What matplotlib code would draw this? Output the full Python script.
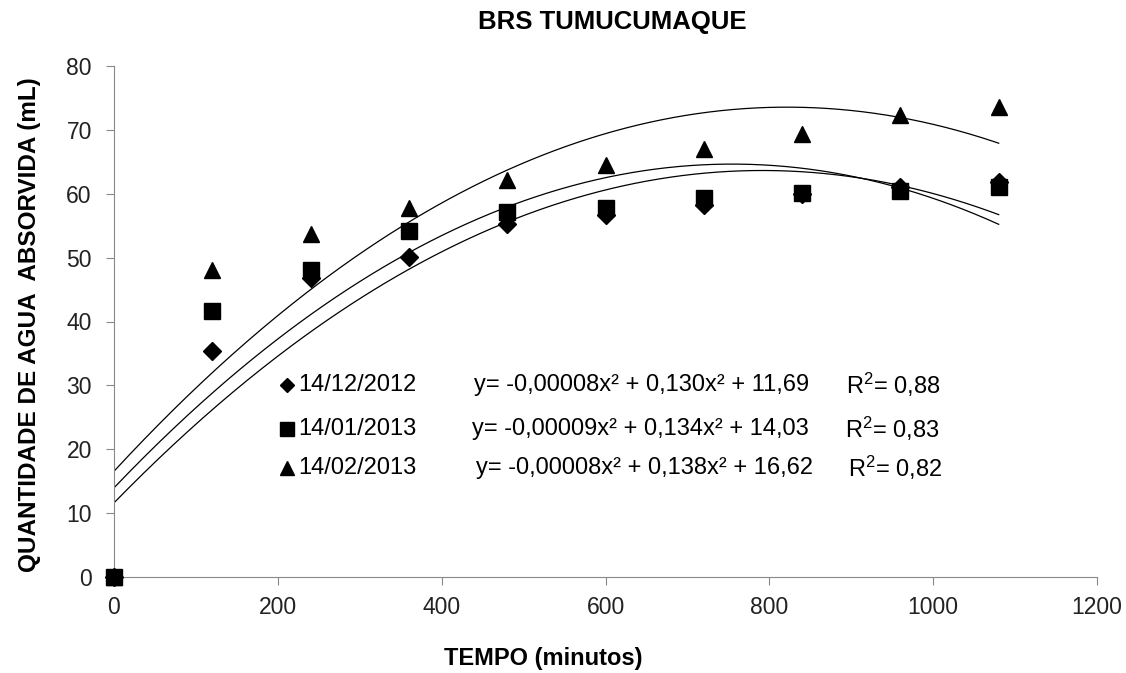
import numpy as np
import matplotlib
matplotlib.use("Agg")
import matplotlib.pyplot as plt

plt.rcParams['font.family'] = ['Liberation Sans', 'DejaVu Sans']
plt.rcParams['mathtext.fontset'] = 'custom'
plt.rcParams['mathtext.rm'] = 'Liberation Sans'
plt.rcParams['mathtext.it'] = 'Liberation Sans'

tempo = [0, 120, 240, 360, 480, 600, 720, 840, 960, 1080]
dez2012 = [0, 35.4, 46.8, 50.1, 55.2, 56.7, 58.2, 60.0, 61.0, 61.8]
jan2013 = [0, 41.7, 48.0, 54.2, 57.2, 57.8, 59.3, 60.1, 60.4, 61.0]
fev2013 = [0, 48.0, 53.7, 57.7, 62.1, 64.5, 67.0, 69.3, 72.4, 73.6]

labels = ["14/12/2012", "14/01/2013", "14/02/2013"]
equations = ["y= -0,00008x² + 0,130x² + 11,69", "y= -0,00009x² + 0,134x² + 14,03",
             "y= -0,00008x² + 0,138x² + 16,62"]
r2 = ["R$^2$= 0,88", "R$^2$= 0,83", "R$^2$= 0,82"]
series = [dez2012, jan2013, fev2013]
markers = ['D', 's', '^']
msizes = [9, 11, 11]

fig = plt.figure(figsize=(11.26, 6.73), dpi=100)
ax = fig.add_axes([114/1126, 1 - 577/673, (1097-114)/1126, (577-66)/673])

xx = np.linspace(0, 1080, 300)
for ys, m, ms in zip(series, markers, msizes):
    ax.plot(tempo, ys, linestyle='none', marker=m, markersize=ms, color='black', clip_on=False, zorder=3)
    c = np.polyfit(tempo, ys, 2)
    ax.plot(xx, np.polyval(c, xx), color='black', lw=0.9)

ax.set_xlim(0, 1200)
ax.set_ylim(0, 80)
ax.set_xticks(range(0, 1201, 200))
ax.set_yticks(range(0, 81, 10))
for s in ['top', 'right']:
    ax.spines[s].set_visible(False)
for s in ['left', 'bottom']:
    ax.spines[s].set_color('#888888')
ax.tick_params(direction='out', length=6, color='#888888', labelsize=16.5, labelcolor='#222222')
ax.tick_params(axis='y', pad=10)
ax.tick_params(axis='x', pad=8)

fig.text(612/1126, 1 - 22/673, "BRS TUMUCUMAQUE", ha='center', va='center', fontsize=18.5, fontweight='bold')
fig.text(543/1126, 1 - 658/673, "TEMPO (minutos)", ha='center', va='center', fontsize=17, fontweight='bold')
fig.text(30/1126, 1 - 325/673, "QUANTIDADE DE AGUA  ABSORVIDA (mL)", ha='center', va='center',
         rotation=90, fontsize=17.5, fontweight='bold')

rows_y = [385, 429, 468]
eq_x = [474, 472, 476]
r2_x = [846, 845, 848]
for i in range(3):
    yfig = 1 - rows_y[i]/673
    fig.text(298/1126, yfig, labels[i], ha='left', va='center', fontsize=17)
    fig.lines.append(plt.Line2D([287/1126], [yfig], marker=markers[i], markersize=[7, 10, 10][i],
                                color='black', transform=fig.transFigure, linestyle='none'))
    fig.text(eq_x[i]/1126, yfig, equations[i], ha='left', va='center', fontsize=17)
    fig.text(r2_x[i]/1126, yfig, r2[i], ha='left', va='center', fontsize=17)

fig.savefig("out.png", dpi=100)
